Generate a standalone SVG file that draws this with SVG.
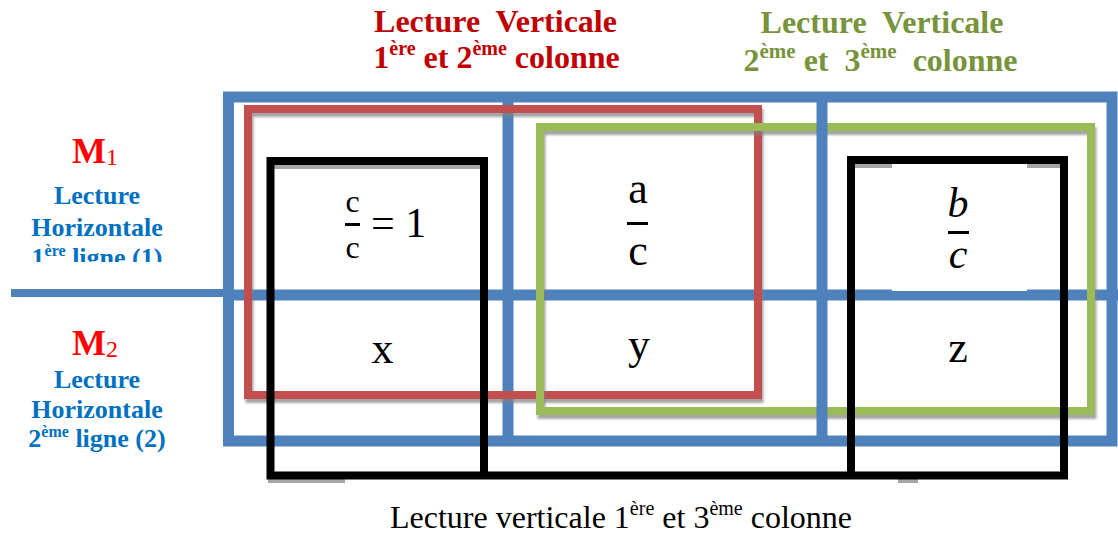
<svg xmlns="http://www.w3.org/2000/svg" width="1118" height="535" viewBox="0 0 1118 535">
<style>
.blue{fill:none;stroke:#4F81BD;stroke-width:11}
.red{fill:none;stroke:#C0504D;stroke-width:8}
.green{fill:none;stroke:#9BBB59;stroke-width:8}
.black{fill:none;stroke:#000;stroke-width:8;stroke-linejoin:miter}
.serif{font-family:"Liberation Serif","Times New Roman",serif;white-space:pre}
.b{font-weight:bold}
.tred{fill:#C00000}
.tgreen{fill:#77933C}
.tblue{fill:#0070C0}
.tm{fill:#FF0000}
.math{font-family:"Liberation Serif","Times New Roman",serif;fill:#000}
.sh{fill:#A6A6A6}
.bar{fill:#000}
</style>
<defs>
<filter id="drop" x="-5%" y="-5%" width="110%" height="115%">
<feDropShadow dx="1.5" dy="4" stdDeviation="1" flood-color="#7F7F7F" flood-opacity="0.7"/>
</filter>
<clipPath id="clipM1"><rect x="0" y="0" width="220" height="262"/></clipPath>
</defs>

<g id="table">
<rect class="blue" x="228.5" y="97" width="883.5" height="344"/>
<line x1="11" y1="293" x2="228" y2="293" stroke="#4F81BD" stroke-width="8"/>
<line x1="228" y1="295" x2="1118" y2="295" stroke="#4F81BD" stroke-width="11"/>
<line class="blue" x1="508" y1="97" x2="508" y2="441"/>
</g>

<g id="highlight-red" filter="url(#drop)">
<rect class="red" x="248" y="109" width="510" height="286"/>
</g>

<g id="highlight-green" filter="url(#drop)">
<rect class="green" x="540" y="127" width="551" height="284"/>
</g>

<g id="table-divider-2">
<line class="blue" x1="822" y1="97" x2="822" y2="441"/>
</g>

<g id="highlight-black">
<rect class="sh" x="274" y="165" width="206" height="4"/>
<rect class="sh" x="855" y="164" width="37" height="4"/>
<rect class="sh" x="1027" y="164" width="35" height="4"/>
<rect class="sh" x="268" y="479" width="77" height="4"/>
<rect class="sh" x="898" y="479" width="20" height="4"/>
<path class="black" d="M270.5,161 H484 V475.5 H270.5 Z M484,475.5 H851 M851,160 H1064 V475.5 H851 Z"/>
</g>

<g id="cell-c-over-c">
<text class="math" x="352.5" y="212" font-size="32" text-anchor="middle">c</text>
<rect class="bar" x="345" y="223" width="15" height="3"/>
<text class="math" x="352.5" y="258" font-size="32" text-anchor="middle">c</text>
<text class="math" x="371" y="237" font-size="42">= 1</text>
</g>

<g id="cell-a-over-c">
<text class="math" x="638" y="203" font-size="44" text-anchor="middle">a</text>
<rect class="bar" x="627" y="222" width="21" height="3"/>
<text class="math" x="638" y="265" font-size="44" text-anchor="middle">c</text>
</g>

<g id="cell-b-over-c">
<rect x="892" y="164" width="135" height="127" fill="#FFFFFF"/>
<text class="math" x="958" y="217" font-size="42" font-style="italic" text-anchor="middle">b</text>
<rect class="bar" x="948" y="231" width="21" height="3"/>
<text class="math" x="958" y="268" font-size="42" font-style="italic" text-anchor="middle">c</text>
</g>

<g id="cell-x"><text class="math" x="382.5" y="363" font-size="44" text-anchor="middle">x</text></g>
<g id="cell-y"><text class="math" x="639" y="359" font-size="44" text-anchor="middle">y</text></g>
<g id="cell-z"><text class="math" x="958" y="362" font-size="44" text-anchor="middle">z</text></g>

<g id="label-red">
<text class="serif b tred" x="495.5" y="32" font-size="32" text-anchor="middle" xml:space="preserve">Lecture  Verticale</text>
<text class="serif b tred" x="496.5" y="68" font-size="32" text-anchor="middle" xml:space="preserve">1<tspan font-size="20" dy="-13">ère</tspan><tspan dy="13"> et 2</tspan><tspan font-size="20" dy="-13">ème</tspan><tspan dy="13"> colonne</tspan></text>
</g>

<g id="label-green">
<text class="serif b tgreen" x="882" y="33" font-size="32" text-anchor="middle" xml:space="preserve">Lecture  Verticale</text>
<text class="serif b tgreen" x="880.5" y="71" font-size="32" text-anchor="middle" xml:space="preserve">2<tspan font-size="21" dy="-13">ème</tspan><tspan dy="13"> et  3</tspan><tspan font-size="21" dy="-13">ème</tspan><tspan dy="13">  colonne</tspan></text>
</g>

<g id="label-m1">
<text class="serif b tm" x="72" y="163" font-size="36">M<tspan font-size="24" font-weight="normal" dy="2">1</tspan></text>
<text class="serif b tblue" x="97" y="204" font-size="26" text-anchor="middle">Lecture</text>
<text class="serif b tblue" x="97" y="236" font-size="26" text-anchor="middle">Horizontale</text>
<text class="serif b tblue" x="97" y="266" font-size="26" text-anchor="middle" clip-path="url(#clipM1)" xml:space="preserve">1<tspan font-size="16" dy="-10">ère</tspan><tspan dy="10"> ligne (1)</tspan></text>
</g>

<g id="label-m2">
<text class="serif b tm" x="72" y="355" font-size="36">M<tspan font-size="24" font-weight="normal" dy="2">2</tspan></text>
<text class="serif b tblue" x="97" y="388" font-size="26" text-anchor="middle">Lecture</text>
<text class="serif b tblue" x="97" y="418" font-size="26" text-anchor="middle">Horizontale</text>
<text class="serif b tblue" x="97" y="447" font-size="26" text-anchor="middle" xml:space="preserve">2<tspan font-size="16" dy="-10">ème</tspan><tspan dy="10"> ligne (2)</tspan></text>
</g>

<g id="label-bottom">
<text class="serif" x="621" y="528" font-size="32" fill="#000" text-anchor="middle" xml:space="preserve">Lecture verticale 1<tspan font-size="20" dy="-13">ère</tspan><tspan dy="13"> et 3</tspan><tspan font-size="20" dy="-13">ème</tspan><tspan dy="13"> colonne</tspan></text>
</g>
</svg>
